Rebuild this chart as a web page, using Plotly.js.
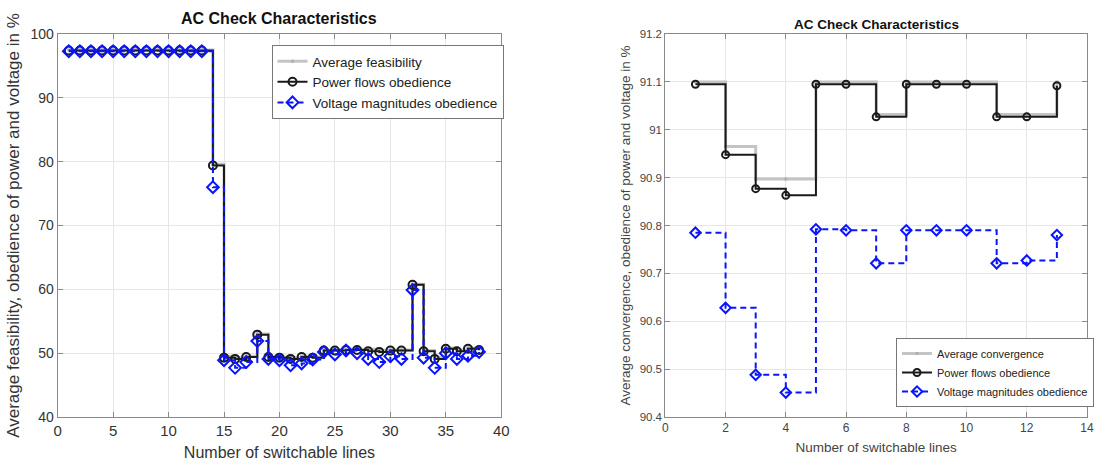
<!DOCTYPE html>
<html>
<head>
<meta charset="utf-8">
<script src="https://cdn.plot.ly/plotly-3.0.1.min.js"></script>
<style>html,body{margin:0;padding:0;background:#fff;}#chart{width:1094px;height:466px;}</style>
</head>
<body>
<div id="chart"></div>
<script>
// ---- Left panel data ----
const linesLeft = [1,2,3,4,5,6,7,8,9,10,11,12,13,14,15,16,17,18,19,20,21,22,23,24,25,26,27,28,29,30,31,32,33,34,35,36,37,38];
const avgFeasibility = [97.5,97.5,97.5,97.5,97.5,97.5,97.5,97.5,97.5,97.5,97.5,97.5,97.5,79.6,49.5,49.3,49.5,53.0,49.5,49.4,49.3,49.5,49.4,50.5,50.5,50.6,50.6,50.6,50.4,50.5,50.5,60.8,50.4,49.3,50.8,50.5,50.8,50.6];
const powerFlowsLeft = [97.4,97.4,97.4,97.4,97.4,97.4,97.4,97.4,97.4,97.4,97.4,97.4,97.4,79.4,49.3,49.1,49.4,52.9,49.4,49.3,49.1,49.4,49.3,50.4,50.4,50.5,50.5,50.3,50.2,50.4,50.4,60.7,50.3,49.1,50.7,50.3,50.7,50.5];
const voltageLeft = [97.3,97.3,97.3,97.3,97.3,97.3,97.3,97.3,97.3,97.3,97.3,97.3,97.3,76.0,48.9,47.7,48.6,51.9,49.1,48.9,48.1,48.4,49.0,50.2,49.8,50.4,50.0,49.1,48.6,49.5,49.1,59.9,49.3,47.7,50.0,49.1,49.6,50.2];

// ---- Right panel data ----
const linesRight = [1,2,3,4,5,6,7,8,9,10,11,12,13];
const avgConvergence = [91.100,90.965,90.897,90.897,91.100,91.100,91.032,91.100,91.100,91.100,91.032,91.032,91.100];
const powerFlowsRight = [91.095,90.948,90.877,90.863,91.095,91.095,91.027,91.095,91.095,91.095,91.027,91.027,91.092];
const voltageRight = [90.785,90.628,90.488,90.451,90.792,90.790,90.721,90.790,90.790,90.790,90.721,90.727,90.780];

const titleText = 'AC Check Characteristics';
const xTitle = 'Number of switchable lines';
const yTitleLeft = 'Average feasibility, obedience of power and voltage in %';
const yTitleRight = 'Average convergence, obedience of power and voltage in %';

const FONT = 'Liberation Sans, Arial, Helvetica, sans-serif';
const GRAY = '#c4c4c4', BLACK = '#1a1a1a', BLUE = '#0a14ff';

// plot area: top 34px, bottom 417px -> paper height 383px
const H = 466, TOP = 34, BOT = 417, PH = BOT - TOP;
function py(px) { return (BOT - px) / PH; }

function tr(x, y, name, style, xa, ya, leg, msize) {
  const base = {x: x, y: y, name: name, xaxis: xa, yaxis: ya, legend: leg, mode: 'lines+markers', type: 'scatter'};
  if (style === 'gray') {
    base.line = {color: GRAY, width: 3, shape: 'hv'};
    base.marker = {symbol: 'square', size: 3, color: '#b0b0b0'};
  } else if (style === 'black') {
    base.line = {color: BLACK, width: 2, shape: 'hv'};
    base.marker = {symbol: 'circle-open', size: msize, color: BLACK, line: {width: 2, color: BLACK}};
  } else {
    base.line = {color: BLUE, width: 2, shape: 'hv', dash: '6px,4px'};
    base.marker = {symbol: 'diamond-open', size: msize + 1, color: BLUE, line: {width: 2, color: BLUE}};
  }
  return base;
}

const data = [
  tr(linesLeft, avgFeasibility, 'Average feasibility', 'gray', 'x', 'y', 'legend', 8),
  tr(linesLeft, powerFlowsLeft, 'Power flows obedience', 'black', 'x', 'y', 'legend', 8),
  tr(linesLeft, voltageLeft, 'Voltage magnitudes obedience', 'blue', 'x', 'y', 'legend', 8),
  tr(linesRight, avgConvergence, 'Average convergence', 'gray', 'x2', 'y2', 'legend2', 7),
  tr(linesRight, powerFlowsRight, 'Power flows obedience', 'black', 'x2', 'y2', 'legend2', 7),
  tr(linesRight, voltageRight, 'Voltage magnitudes obedience', 'blue', 'x2', 'y2', 'legend2', 7)
];

const axCommon = {
  showline: true, mirror: 'ticks', linecolor: '#8a8a8a', linewidth: 1,
  ticks: 'inside', ticklen: 5, tickcolor: '#8a8a8a',
  showgrid: true, gridcolor: '#e6e6e6', gridwidth: 1, zeroline: false,
  automargin: false,
  tickfont: {family: FONT, color: '#333'}
};

const layout = {
  width: 1094, height: 466,
  margin: {l: 0, r: 0, t: TOP, b: H - BOT},
  paper_bgcolor: '#fff', plot_bgcolor: '#fff',
  font: {family: FONT, color: '#333'},
  showlegend: true,
  xaxis: Object.assign({}, axCommon, {
    domain: [58/1094, 504/1094], range: [0, 40], dtick: 5, tick0: 0, anchor: 'y',
    tickfont: {family: FONT, size: 15, color: '#333'},
    title: {text: xTitle, font: {family: FONT, size: 16, color: '#333'}, standoff: 8}
  }),
  yaxis: Object.assign({}, axCommon, {
    domain: [0, 1], range: [40, 100], dtick: 10, tick0: 40, anchor: 'x',
    tickfont: {family: FONT, size: 14, color: '#333'},
    title: {text: yTitleLeft, font: {family: FONT, size: 17, color: '#333'}, standoff: 6}
  }),
  xaxis2: Object.assign({}, axCommon, {
    domain: [669/1094, 1093/1094], range: [0, 14], dtick: 2, tick0: 0, anchor: 'y2',
    tickfont: {family: FONT, size: 12, color: '#444'},
    title: {text: xTitle, font: {family: FONT, size: 13.5, color: '#444'}, standoff: 8}
  }),
  yaxis2: Object.assign({}, axCommon, {
    domain: [0, 1], range: [90.4, 91.2], dtick: 0.1, tick0: 90.4, anchor: 'x2',
    tickfont: {family: FONT, size: 11.5, color: '#444'},
    title: {text: yTitleRight, font: {family: FONT, size: 13.5, color: '#444'}, standoff: 5}
  }),
  legend: {
    x: 273/1094, y: py(45), xref: 'paper', yref: 'paper', xanchor: 'left', yanchor: 'top',
    bgcolor: '#fff', bordercolor: '#777', borderwidth: 1,
    font: {family: FONT, size: 13.5, color: '#222'}, itemwidth: 30, tracegroupgap: 0
  },
  legend2: {
    x: 901/1094, y: py(338), xref: 'paper', yref: 'paper', xanchor: 'left', yanchor: 'top',
    bgcolor: '#fff', bordercolor: '#777', borderwidth: 1,
    font: {family: FONT, size: 11, color: '#222'}, itemwidth: 30, tracegroupgap: 0
  },
  annotations: [
    {text: '<b>' + titleText + '</b>', x: 281/1094, y: py(18), xref: 'paper', yref: 'paper',
     xanchor: 'center', yanchor: 'middle', showarrow: false, font: {family: FONT, size: 16, color: '#111'}},
    {text: '<b>' + titleText + '</b>', x: 881/1094, y: py(24), xref: 'paper', yref: 'paper',
     xanchor: 'center', yanchor: 'middle', showarrow: false, font: {family: FONT, size: 13.5, color: '#111'}}
  ]
};

Plotly.newPlot('chart', data, layout, {displayModeBar: false, responsive: false});
</script>
</body>
</html>
